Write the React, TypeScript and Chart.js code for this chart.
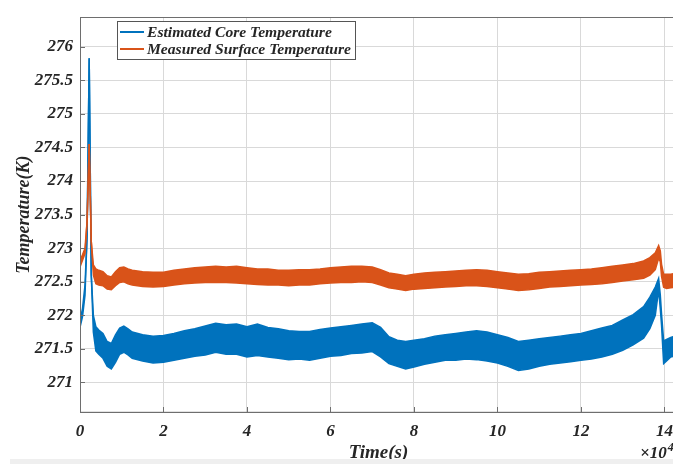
import { useEffect, useRef } from "react";
import { Chart, registerables } from "chart.js";

Chart.register(...registerables);

// Time axis in units of 10^4 s
const TIME = [
  0, 0.06, 0.12, 0.17, 0.22, 0.27, 0.32, 0.38, 0.45, 0.55, 0.65, 0.75, 0.85, 0.95, 1.05, 1.15, 1.25,
  1.5, 1.75, 2, 2.25, 2.5, 2.75, 3, 3.25, 3.5, 3.75, 4, 4.25, 4.5, 4.75, 5, 5.25, 5.5, 5.75, 6,
  6.25, 6.5, 6.75, 7, 7.2, 7.4, 7.6, 7.8, 8, 8.25, 8.5, 8.75, 9, 9.25, 9.5, 9.75, 10, 10.25, 10.5,
  10.75, 11, 11.25, 11.5, 11.75, 12, 12.25, 12.5, 12.75, 13, 13.25, 13.5, 13.65, 13.78, 13.86,
  13.9, 13.93, 13.98, 14.05, 14.15, 14.3,
];

// Estimated core temperature (K): lower / upper edge of the noisy trace
const CORE_LOW = [
  271.82, 271.98, 272.3, 273.2, 275.83, 272.6, 271.75, 271.47, 271.42, 271.36, 271.24, 271.2, 271.3,
  271.42, 271.45, 271.41, 271.36,
  271.32, 271.29, 271.3, 271.33, 271.36, 271.39, 271.41, 271.45, 271.42, 271.42, 271.38, 271.4,
  271.38, 271.36, 271.34, 271.35, 271.33, 271.36, 271.39,
  271.4, 271.43, 271.44, 271.46, 271.38, 271.28, 271.24, 271.2, 271.23, 271.27, 271.3, 271.33,
  271.33, 271.35, 271.34, 271.32, 271.29, 271.24, 271.18,
  271.2, 271.24, 271.27, 271.29, 271.31, 271.33, 271.35, 271.38, 271.42, 271.48, 271.56, 271.66,
  271.8, 272.0, 272.38,
  272.1, 271.85, 271.28, 271.32, 271.38, 271.4,
];
const CORE_HIGH = [
  271.92, 272.1, 272.45, 273.2, 275.83, 272.6, 272.0, 271.83, 271.78, 271.73, 271.61, 271.58, 271.71,
  271.81, 271.84, 271.8, 271.75,
  271.71, 271.69, 271.7, 271.73, 271.77, 271.8, 271.84, 271.88, 271.86, 271.87, 271.83, 271.87,
  271.82, 271.8, 271.77, 271.76, 271.76, 271.79, 271.81,
  271.83, 271.85, 271.87, 271.89, 271.82, 271.68, 271.63, 271.61, 271.63, 271.65, 271.69, 271.71,
  271.73, 271.75, 271.77, 271.75, 271.71, 271.67, 271.61,
  271.63, 271.65, 271.67, 271.69, 271.71, 271.73, 271.77, 271.81, 271.85, 271.93, 272.01, 272.13,
  272.27, 272.42, 272.55,
  272.3, 272.02, 271.62, 271.64, 271.67, 271.7,
];

// Measured surface temperature (K): lower / upper edge of the noisy trace
const SURF_LOW = [
  272.72, 272.82, 272.92, 273.4, 274.55, 273.1, 272.6, 272.47, 272.45, 272.44, 272.39, 272.38, 272.44,
  272.49, 272.5, 272.47, 272.45,
  272.43, 272.42, 272.43, 272.45, 272.47, 272.48, 272.49, 272.49, 272.49, 272.48, 272.47, 272.46,
  272.45, 272.45, 272.44, 272.45, 272.45, 272.47, 272.48,
  272.49, 272.49, 272.5, 272.49, 272.45, 272.41, 272.39, 272.37, 272.39, 272.4, 272.41, 272.42,
  272.43, 272.44, 272.44, 272.43, 272.41, 272.39, 272.37,
  272.38, 272.4, 272.42, 272.43, 272.44, 272.45, 272.46, 272.47, 272.49, 272.51, 272.53, 272.55,
  272.6, 272.68, 272.85,
  272.8, 272.58, 272.42, 272.4, 272.41, 272.42,
];
const SURF_HIGH = [
  272.82, 272.9, 273.0, 273.4, 274.55, 273.1, 272.75, 272.69, 272.67, 272.65, 272.59, 272.57, 272.65,
  272.71, 272.72, 272.69, 272.67,
  272.65, 272.64, 272.64, 272.67, 272.69, 272.71, 272.72, 272.73, 272.72, 272.73, 272.71, 272.69,
  272.69, 272.67, 272.67, 272.68, 272.68, 272.69, 272.71,
  272.72, 272.73, 272.73, 272.72, 272.68, 272.63, 272.61, 272.59, 272.61, 272.63, 272.64, 272.65,
  272.66, 272.67, 272.68, 272.67, 272.65, 272.63, 272.61,
  272.62, 272.64, 272.65, 272.66, 272.67, 272.68, 272.69, 272.71, 272.73, 272.75, 272.77, 272.81,
  272.86, 272.93, 273.04,
  272.96, 272.76, 272.61, 272.61, 272.61, 272.63,
];

const X_TICKS = [0, 2, 4, 6, 8, 10, 12, 14];
const Y_TICKS = [271, 271.5, 272, 272.5, 273, 273.5, 274, 274.5, 275, 275.5, 276];
const SERIES_NAMES = ["Estimated Core Temperature", "Measured Surface Temperature"];
const X_TITLE = "Time(s)";
const Y_TITLE = "Temperature(K)";
const X_EXPONENT = "4";

const BLUE = "#0072BD";
const ORANGE = "#D95319";
const TEXT = "#262626";
const AXIS = "#6e6e6e";
const GRID = "#d9d9d9";
const SERIF = "'Liberation Serif', 'Times New Roman', serif";

const toPoints = (ys: number[]) => ys.map((y, i) => ({ x: TIME[i], y }));

const framePlugin = {
  id: "frame",
  afterDraw(chart: any) {
    const { ctx, chartArea, scales } = chart;
    const { left, top, right, bottom } = chartArea;
    ctx.save();
    // box around the axes
    ctx.strokeStyle = AXIS;
    ctx.lineWidth = 1;
    ctx.strokeRect(Math.round(left) + 0.5, Math.round(top) + 0.5, right - left, bottom - top);
    // inward tick marks
    ctx.beginPath();
    for (const v of Y_TICKS) {
      const py = Math.round(scales.y.getPixelForValue(v)) + 0.5;
      ctx.moveTo(left, py);
      ctx.lineTo(left + 5, py);
    }
    for (const v of X_TICKS) {
      const px = Math.round(scales.x.getPixelForValue(v)) + 0.5;
      ctx.moveTo(px, bottom);
      ctx.lineTo(px, bottom - 5);
    }
    ctx.stroke();

    // legend
    const lx = 117, ly = 21, lw = 238, lh = 38;
    ctx.fillStyle = "#ffffff";
    ctx.fillRect(lx, ly, lw, lh);
    ctx.strokeStyle = "#555555";
    ctx.strokeRect(lx + 0.5, ly + 0.5, lw, lh);
    const colors = [BLUE, ORANGE];
    ctx.font = `italic bold 15.6px ${SERIF}`;
    ctx.textBaseline = "middle";
    ctx.textAlign = "left";
    SERIES_NAMES.forEach((name, i) => {
      const yy = ly + 11 + i * 17;
      ctx.strokeStyle = colors[i];
      ctx.lineWidth = 2;
      ctx.beginPath();
      ctx.moveTo(lx + 3, yy);
      ctx.lineTo(lx + 27, yy);
      ctx.stroke();
      ctx.fillStyle = TEXT;
      ctx.fillText(name, lx + 30, yy + 1);
    });

    // axis exponent
    ctx.fillStyle = TEXT;
    ctx.font = `italic bold 17px ${SERIF}`;
    ctx.textBaseline = "alphabetic";
    const base = "×10";
    ctx.fillText(base, 640, 458);
    const w = ctx.measureText(base).width;
    ctx.font = `italic bold 12px ${SERIF}`;
    ctx.fillText(X_EXPONENT, 640 + w + 1, 451);
    ctx.restore();
  },
};

export default function App() {
  const ref = useRef<HTMLCanvasElement | null>(null);

  useEffect(() => {
    if (!ref.current) return;
    const line = (data: number[], color: string, fill: any) => ({
      data: toPoints(data),
      borderColor: color,
      backgroundColor: color,
      borderWidth: 1.5,
      pointRadius: 0,
      tension: 0,
      fill,
    });
    const chart = new Chart(ref.current, {
      type: "line",
      data: {
        datasets: [
          line(SURF_LOW, ORANGE, false),
          line(SURF_HIGH, ORANGE, "-1"),
          line(CORE_LOW, BLUE, false),
          line(CORE_HIGH, BLUE, "-1"),
        ],
      },
      plugins: [framePlugin],
      options: {
        responsive: false,
        animation: false,
        layout: { padding: { top: 14, right: 23, bottom: 0, left: 0 } },
        plugins: { legend: { display: false }, tooltip: { enabled: false } },
        scales: {
          x: {
            type: "linear",
            min: 0,
            max: 14.3,
            afterBuildTicks: (s: any) => {
              s.ticks = X_TICKS.map((v) => ({ value: v }));
            },
            afterFit: (s: any) => {
              s.height = 52;
            },
            ticks: {
              color: TEXT,
              padding: 9,
              maxRotation: 0,
              font: { family: SERIF, size: 17, weight: "bold", style: "italic" },
              callback: (v: any) => String(v),
            },
            grid: { color: GRID, drawTicks: false },
            border: { color: AXIS },
            title: {
              display: true,
              text: X_TITLE,
              color: TEXT,
              padding: { top: 0, bottom: 0 },
              font: { family: SERIF, size: 19, weight: "bold", style: "italic" },
            },
          },
          y: {
            min: 270.56,
            max: 276.44,
            afterBuildTicks: (s: any) => {
              s.ticks = Y_TICKS.map((v) => ({ value: v }));
            },
            afterFit: (s: any) => {
              s.width = 80;
            },
            ticks: {
              color: TEXT,
              padding: 7,
              font: { family: SERIF, size: 17, weight: "bold", style: "italic" },
              callback: (v: any) => String(v),
            },
            grid: { color: GRID, drawTicks: false },
            border: { color: AXIS },
            title: {
              display: true,
              text: Y_TITLE,
              color: TEXT,
              padding: { top: 14, bottom: 0 },
              font: { family: SERIF, size: 18, weight: "bold", style: "italic" },
            },
          },
        },
      } as any,
    });
    return () => chart.destroy();
  }, []);

  return (
    <div
      style={{
        position: "absolute",
        left: 0,
        top: 0,
        width: 673,
        height: 464,
        overflow: "hidden",
        background: "#ffffff",
      }}
    >
      <canvas ref={ref} width={700} height={464} style={{ display: "block" }} />
      <div
        style={{
          position: "absolute",
          left: 10,
          top: 459,
          width: 663,
          height: 5,
          background: "#efefef",
        }}
      />
    </div>
  );
}
